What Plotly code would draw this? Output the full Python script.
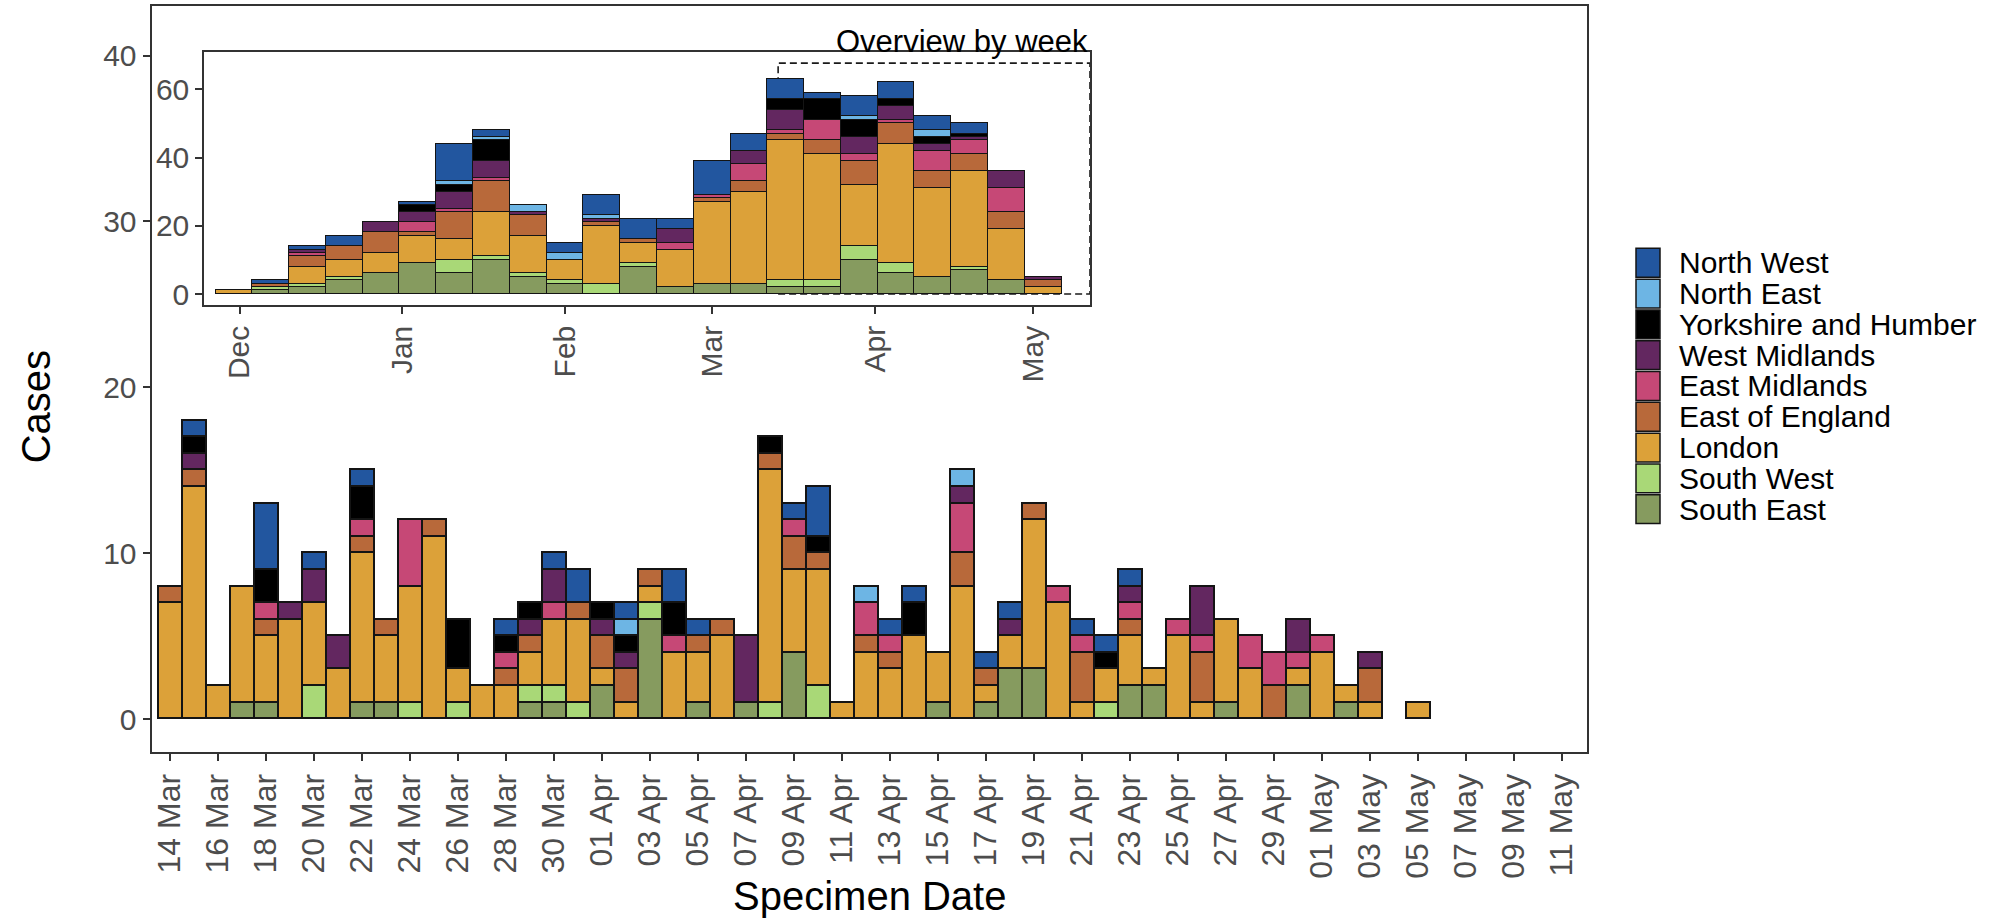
import pandas as pd
import plotly.graph_objects as go

W, H = 2013, 922
FONT = "Liberation Sans, Arial, Helvetica, sans-serif"

# ---- daily cases by region, 14 Mar - 05 May ----
day_dates = pd.date_range("2019-03-14", "2019-05-05", freq="D")

daily_south_east = [0, 0, 0, 1, 1, 0, 0, 0, 1, 1, 0, 0, 0, 0, 0, 1, 1, 0,
                    2, 0, 6, 0, 1, 0, 1, 0, 4, 0, 0, 0, 0, 0, 1, 0, 1, 3, 3, 0, 0, 0,
                    2, 2, 0, 0, 1, 0, 0, 2, 0, 1, 0, 0, 0]
daily_south_west = [0, 0, 0, 0, 0, 0, 2, 0, 0, 0, 1, 0, 1, 0, 0, 1, 1, 1,
                    0, 0, 1, 0, 0, 0, 0, 1, 0, 2, 0, 0, 0, 0, 0, 0, 0, 0, 0, 0, 0, 1,
                    0, 0, 0, 0, 0, 0, 0, 0, 0, 0, 0, 0, 0]
daily_london = [7, 14, 2, 7, 4, 6, 5, 3, 9, 4, 7, 11, 2, 2, 2, 2, 4, 5,
                1, 1, 1, 4, 3, 5, 0, 14, 5, 7, 1, 4, 3, 5, 3, 8, 1, 2, 9, 7, 1, 2,
                3, 1, 5, 1, 5, 3, 0, 1, 4, 1, 1, 0, 1]
daily_east_of_england = [1, 1, 0, 0, 1, 0, 0, 0, 1, 1, 0, 1, 0, 0, 1, 1, 0, 1,
                         2, 2, 1, 0, 1, 1, 0, 1, 2, 1, 0, 1, 1, 0, 0, 2, 1, 0, 1, 0, 3, 0,
                         1, 0, 0, 3, 0, 0, 2, 0, 0, 0, 2, 0, 0]
daily_east_midlands = [0, 0, 0, 0, 1, 0, 0, 0, 1, 0, 4, 0, 0, 0, 1, 0, 1, 0,
                       0, 0, 0, 1, 0, 0, 0, 0, 1, 0, 0, 2, 1, 0, 0, 3, 0, 0, 0, 1, 1, 0,
                       1, 0, 1, 1, 0, 2, 2, 1, 1, 0, 0, 0, 0]
daily_west_midlands = [0, 1, 0, 0, 0, 1, 2, 2, 0, 0, 0, 0, 0, 0, 0, 1, 2, 0,
                       1, 1, 0, 0, 0, 0, 4, 0, 0, 0, 0, 0, 0, 0, 0, 1, 0, 1, 0, 0, 0, 0,
                       1, 0, 0, 3, 0, 0, 0, 2, 0, 0, 1, 0, 0]
daily_yorkshire = [0, 1, 0, 0, 2, 0, 0, 0, 2, 0, 0, 0, 3, 0, 1, 1, 0, 0,
                   1, 1, 0, 2, 0, 0, 0, 1, 0, 1, 0, 0, 0, 2, 0, 0, 0, 0, 0, 0, 0, 1,
                   0, 0, 0, 0, 0, 0, 0, 0, 0, 0, 0, 0, 0]
daily_north_east = [0, 0, 0, 0, 0, 0, 0, 0, 0, 0, 0, 0, 0, 0, 0, 0, 0, 0,
                    0, 1, 0, 0, 0, 0, 0, 0, 0, 0, 0, 1, 0, 0, 0, 1, 0, 0, 0, 0, 0, 0,
                    0, 0, 0, 0, 0, 0, 0, 0, 0, 0, 0, 0, 0]
daily_north_west = [0, 1, 0, 0, 4, 0, 1, 0, 1, 0, 0, 0, 0, 0, 1, 0, 1, 2,
                    0, 1, 0, 2, 1, 0, 0, 0, 1, 3, 0, 0, 1, 1, 0, 0, 1, 1, 0, 0, 1, 1,
                    1, 0, 0, 0, 0, 0, 0, 0, 0, 0, 0, 0, 0]

# ---- weekly overview (bars centred on week midpoints) ----
week_dates = pd.date_range("2018-11-30", periods=23, freq="7D")

weekly_south_east = [0, 1, 2, 4, 6, 9, 6, 10, 5, 3, 0, 8, 2, 3, 3, 2, 2, 10, 6, 5, 7, 4, 0]
weekly_south_west = [0, 1, 1, 1, 0, 0, 4, 1, 1, 1, 3, 1, 0, 0, 0, 2, 2, 4, 3, 0, 1, 0, 0]
weekly_london = [1, 0, 5, 5, 6, 8, 6, 13, 11, 6, 17, 6, 11, 24, 27, 41, 37, 18, 35, 26, 28, 15, 2]
weekly_east_of_england = [0, 1, 3, 4, 6, 1, 8, 9, 6, 0, 1, 1, 0, 1, 3, 2, 4, 7, 6, 5, 5, 5, 2]
weekly_east_midlands = [0, 0, 1, 0, 0, 3, 1, 1, 0, 0, 0, 0, 2, 1, 5, 1, 6, 2, 1, 6, 4, 7, 0]
weekly_west_midlands = [0, 0, 1, 0, 3, 3, 5, 5, 1, 0, 1, 0, 4, 0, 4, 6, 0, 5, 4, 2, 1, 5, 1]
weekly_yorkshire = [0, 0, 0, 0, 0, 2, 2, 6, 0, 0, 0, 0, 0, 0, 0, 3, 6, 5, 2, 2, 1, 0, 0]
weekly_north_east = [0, 0, 0, 0, 0, 0, 1, 1, 2, 2, 1, 0, 0, 0, 0, 0, 0, 1, 0, 2, 0, 0, 0]
weekly_north_west = [0, 1, 1, 3, 0, 1, 11, 2, 0, 3, 6, 6, 3, 10, 5, 6, 2, 6, 5, 4, 3, 0, 0]

# stacking order, bottom to top
regions = ["South East", "South West", "London", "East of England", "East Midlands",
           "West Midlands", "Yorkshire and Humber", "North East", "North West"]
colours = {
    "North West": "#22569F",
    "North East": "#6DB5E4",
    "Yorkshire and Humber": "#000000",
    "West Midlands": "#632760",
    "East Midlands": "#C64876",
    "East of England": "#B8693A",
    "London": "#DCA139",
    "South West": "#A9D877",
    "South East": "#869B5F",
}
daily = dict(zip(regions, [daily_south_east, daily_south_west, daily_london,
                           daily_east_of_england, daily_east_midlands, daily_west_midlands,
                           daily_yorkshire, daily_north_east, daily_north_west]))
weekly = dict(zip(regions, [weekly_south_east, weekly_south_west, weekly_london,
                            weekly_east_of_england, weekly_east_midlands, weekly_west_midlands,
                            weekly_yorkshire, weekly_north_east, weekly_north_west]))

DAY_MS = 86400000
OUTLINE = "#141414"


def px_x(v):
    return v / W


def px_y(v):
    return 1 - v / H


def blank_zero(vals):
    return [v if v else None for v in vals]


fig = go.Figure()

for r in regions:
    fig.add_trace(go.Bar(
        x=day_dates, y=blank_zero(daily[r]), name=r, width=DAY_MS,
        marker=dict(color=colours[r], line=dict(color=OUTLINE, width=1.6)),
        xaxis="x", yaxis="y", showlegend=False))

for r in regions:
    fig.add_trace(go.Bar(
        x=week_dates, y=blank_zero(weekly[r]), name=r, width=7 * DAY_MS,
        marker=dict(color=colours[r], line=dict(color=OUTLINE, width=1.6)),
        xaxis="x2", yaxis="y2", showlegend=False))

tick_font = dict(family=FONT, size=30, color="#4D4D4D")
axis_common = dict(showgrid=False, zeroline=False, showline=True, mirror=True,
                   linecolor="#333333", linewidth=2, ticks="outside", ticklen=7,
                   tickwidth=2, tickcolor="#333333", tickfont=tick_font)

main_ticks = pd.date_range("2019-03-14", "2019-05-11", freq="2D")
inset_ticks = ["2018-12-01", "2019-01-01", "2019-02-01", "2019-03-01", "2019-04-01", "2019-05-01"]
inset_labels = ["Dec", "Jan", "Feb", "Mar", "Apr", "May"]
inset_x_end = "2019-05-11 20:24"

fig.update_layout(
    width=W, height=H, margin=dict(l=0, r=0, t=0, b=0),
    paper_bgcolor="white", plot_bgcolor="white",
    barmode="stack", bargap=0, showlegend=False,
    font=dict(family=FONT),
    xaxis=dict(axis_common, domain=[px_x(151.5), px_x(1587)], anchor="y", type="date",
               range=["2019-03-13 05:30", "2019-05-12 01:00"],
               tickvals=main_ticks, tickformat="%d %b", tickangle=-90,
               tickfont=dict(family=FONT, size=32, color="#4D4D4D")),
    yaxis=dict(axis_common, domain=[px_y(757), px_y(6)], anchor="x",
               range=[-1.98, 42.99], tickvals=[0, 10, 20, 30, 40]),
    xaxis2=dict(axis_common, domain=[px_x(204.3), px_x(1090)], anchor="y2", type="date",
                range=["2018-11-24 07:10", inset_x_end],
                tickvals=inset_ticks, ticktext=inset_labels, tickangle=-90),
    yaxis2=dict(axis_common, domain=[px_y(306.7), px_y(52.5)], anchor="x2",
                range=[-3.12, 70.9], tickvals=[0, 20, 40, 60]),
)

# dashed frame marking the period shown in the daily chart
fig.add_shape(type="rect", xref="x2", yref="y2",
              x0="2019-03-13 12:00", x1=inset_x_end, y0=0, y1=67.7,
              line=dict(color="#1A1A1A", width=1.6, dash="7px,4px"),
              fillcolor="rgba(0,0,0,0)", layer="below")

annotations = [
    dict(text="Overview by week", x=px_x(1090), y=px_y(42), xanchor="right", yanchor="middle",
         font=dict(family=FONT, size=31, color="black")),
    dict(text="Cases", x=px_x(36), y=px_y(410), textangle=-90, xanchor="center", yanchor="middle",
         font=dict(family=FONT, size=40, color="black")),
    dict(text="Specimen Date", x=px_x(869), y=px_y(902), xanchor="center", yanchor="middle",
         font=dict(family=FONT, size=40, color="black")),
]

# legend keys drawn top to bottom
legend_order = ["North West", "North East", "Yorkshire and Humber", "West Midlands",
                "East Midlands", "East of England", "London", "South West", "South East"]
for i, r in enumerate(legend_order):
    top = 250 + 31 * i
    fig.add_shape(type="rect", xref="paper", yref="paper",
                  x0=px_x(1636), x1=px_x(1660), y0=px_y(top + 29), y1=px_y(top),
                  fillcolor=colours[r], line=dict(color=OUTLINE, width=1.5))
    annotations.append(dict(text=r, x=px_x(1677), y=px_y(top + 14.5), xanchor="left",
                            yanchor="middle", showarrow=False,
                            font=dict(family=FONT, size=30, color="black")))

for a in annotations:
    a.setdefault("showarrow", False)
    a["xref"] = "paper"
    a["yref"] = "paper"
fig.update_layout(annotations=annotations)

fig.write_html("out.html")
